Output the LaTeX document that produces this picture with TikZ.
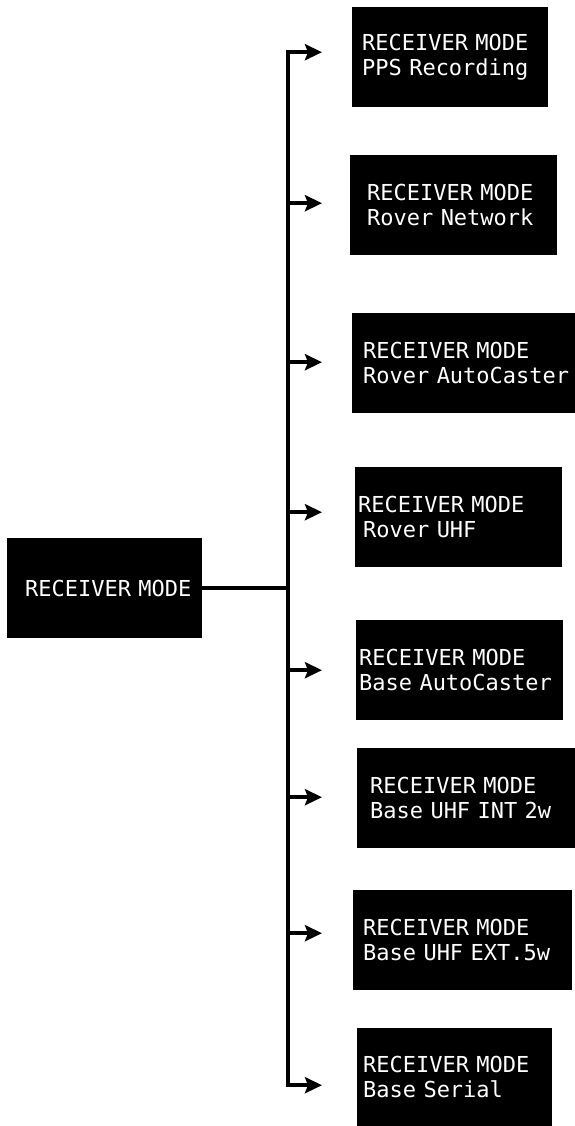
\documentclass[tikz,border=0pt]{standalone}
\usepackage{fontspec}
\newfontfamily\lcdfont{DejaVu Sans Mono}
\usetikzlibrary{arrows.meta}

% two display lines, both pushed in by #1
\newcommand\lcdtext[3]{\hspace*{#1}#2\\\hspace*{#1}#3}

\begin{document}
\begin{tikzpicture}
    [x=1pt, y=-1pt,
     every node/.style={fill=black, text=white, align=left, anchor=north west,
       inner sep=0pt, minimum height=100pt,
       font=\lcdfont\fontsize{22}{25}\selectfont},
     line/.style={draw=black, line width=4.5pt},
     arr/.style={line, -{Stealth[length=17pt, width=16pt, inset=3pt]}},
    ]
    \useasboundingbox (0,0) rectangle (575,1126);

    \node (receiver) [text width=195pt] at (7,538) {\hspace*{18pt}RECEIVER MODE};

    \node (pps) [text width=196pt] at (352,7)
        {\lcdtext{10pt}{RECEIVER MODE}{PPS Recording}};
    \node (rovernet) [text width=207pt] at (350,155)
        {\lcdtext{17pt}{RECEIVER MODE}{Rover Network}};
    \node (roverauto) [text width=223pt] at (352,313)
        {\lcdtext{11pt}{RECEIVER MODE}{Rover AutoCaster}};
    \node (roveruhf) [text width=207pt] at (355,467)
        {\lcdtext{3pt}{RECEIVER MODE}{\hspace*{5pt}Rover UHF}};
    \node (baseauto) [text width=207pt] at (356,620)
        {\lcdtext{3pt}{RECEIVER MODE}{Base AutoCaster}};
    \node (baseint) [text width=218pt] at (357,748)
        {\lcdtext{13pt}{RECEIVER MODE}{Base UHF INT 2w}};
    \node (baseext) [text width=219pt] at (353,890)
        {\lcdtext{10pt}{RECEIVER MODE}{Base UHF EXT.5w}};
    \node (baseserial) [text width=195pt, minimum height=98pt] at (357,1028)
        {\lcdtext{6pt}{RECEIVER MODE}{Base Serial}};

    \coordinate (bus) at (288,0);
    \coordinate (tip) at (322,0);

    % branch points on the bus
    \foreach \m/\d in {pps/5, rovernet/2, roverauto/1, roveruhf/5,
                       baseauto/0, baseint/1, baseext/7, baseserial/-8}
        \coordinate (on-\m) at ([yshift=\d pt]bus |- \m);

    \draw [line] (receiver.east) -- (receiver.east -| bus);
    \draw [line, line cap=rect] (on-pps) -- (on-baseserial);

    \foreach \m in {pps, rovernet, roverauto, roveruhf,
                    baseauto, baseint, baseext, baseserial}
        \draw [arr] (on-\m) -- (tip |- on-\m);

\end{tikzpicture}
\end{document}
